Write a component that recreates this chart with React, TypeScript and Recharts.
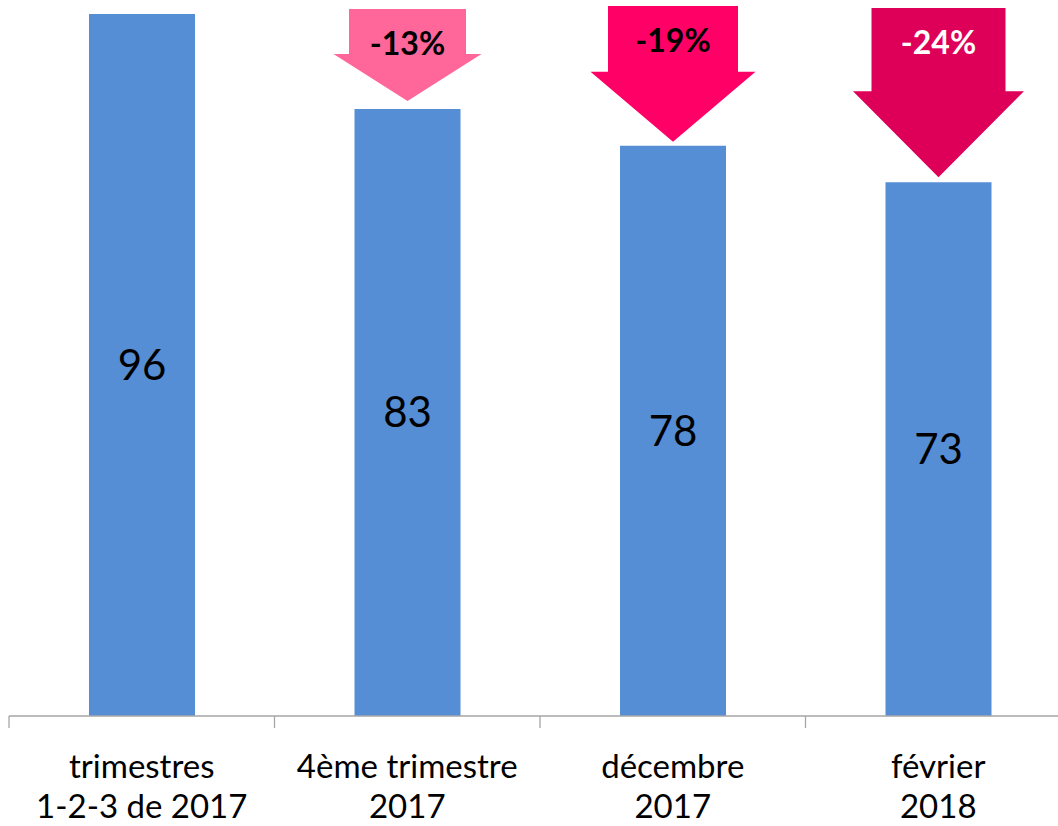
import React from "react";
import { BarChart, Bar, XAxis, YAxis, LabelList } from "recharts";

// ---- data ----
const categories = [
  "trimestres\n1-2-3 de 2017",
  "4ème trimestre\n2017",
  "décembre\n2017",
  "février\n2018",
];
const values = [96, 83, 78, 73];
const changeLabels = ["", "-13%", "-19%", "-24%"];

// ---- styles ----
const BAR_COLOR = "#558ED5";
const arrowFill = ["", "#FF6699", "#FF0066", "#DE0058"];
const arrowText = ["", "#000000", "#000000", "#FFFFFF"];
const arrowGeom = [
  null,
  { top: 9, shaftW: 117, headW: 148, headH: 47, gap: 8 },
  { top: 6, shaftW: 130, headW: 165, headH: 70, gap: 4 },
  { top: 8, shaftW: 134, headW: 171, headH: 86, gap: 5 },
];

const W = 1080;
const H = 826;
const M = { top: 14, right: 9, bottom: 0, left: 9 };
const PLOT_W = W - M.left - M.right;
const BAND = PLOT_W / categories.length;
const FONT = "Lato, 'Open Sans', sans-serif";

const data = categories.map((c, i) => ({
  name: c,
  value: values[i],
  change: changeLabels[i],
}));

const Tick = (props: any) => {
  const { x, y, payload } = props;
  const lines = String(payload.value).split("\n");
  const bx = x - BAND / 2;
  return (
    <g>
      <line x1={bx} y1={y} x2={bx} y2={y + 12} stroke="#A6A6A6" strokeWidth={1.3} />
      {payload.index === categories.length - 1 && (
        <line x1={x + BAND / 2} y1={y} x2={x + BAND / 2} y2={y + 12} stroke="#A6A6A6" strokeWidth={1.3} />
      )}
      {lines.map((l, i) => (
        <text
          key={i}
          x={x}
          y={y + 62 + i * 40}
          textAnchor="middle"
          fontFamily={FONT}
          fontSize={33}
          fill="#000"
        >
          {l}
        </text>
      ))}
    </g>
  );
};

const Arrow = (props: any) => {
  const { x, y, width, index, value } = props;
  const g = arrowGeom[index];
  if (!g || !value) return null;
  const cx = x + width / 2;
  const tip = y - g.gap;
  const hs = tip - g.headH;
  const pts = [
    [cx - g.shaftW / 2, g.top],
    [cx + g.shaftW / 2, g.top],
    [cx + g.shaftW / 2, hs],
    [cx + g.headW / 2, hs],
    [cx, tip],
    [cx - g.headW / 2, hs],
    [cx - g.shaftW / 2, hs],
  ]
    .map((p) => p.join(","))
    .join(" ");
  return (
    <g>
      <polygon points={pts} fill={arrowFill[index]} />
      <text
        x={cx}
        y={g.top + 33}
        textAnchor="middle"
        dominantBaseline="central"
        fontFamily={FONT}
        fontWeight="bold"
        fontSize={32}
        fill={arrowText[index]}
      >
        {value}
      </text>
    </g>
  );
};

export default function App() {
  return (
    <div
      style={{
        position: "absolute",
        left: 0,
        top: 0,
        width: 1058,
        height: 826,
        overflow: "hidden",
        background: "#fff",
      }}
    >
      <BarChart width={W} height={H} data={data} margin={M} barSize={106}>
        <XAxis
          dataKey="name"
          height={110}
          interval={0}
          axisLine={{ stroke: "#A6A6A6", strokeWidth: 1.3 }}
          tickLine={false}
          tickSize={0}
          tickMargin={0}
          tick={<Tick />}
        />
        <YAxis hide domain={[0, 96]} />
        <Bar dataKey="value" fill={BAR_COLOR} isAnimationActive={false}>
          <LabelList
            dataKey="value"
            position="center"
            fontFamily={FONT}
            fontSize={42}
            fill="#000"
          />
          <LabelList dataKey="change" content={<Arrow />} />
        </Bar>
      </BarChart>
    </div>
  );
}
